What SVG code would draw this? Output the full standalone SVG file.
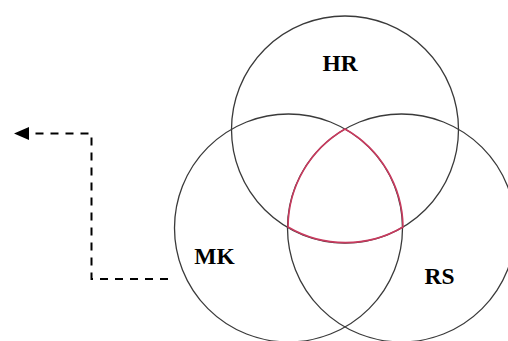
<svg xmlns="http://www.w3.org/2000/svg" width="508" height="341" viewBox="0 0 508 341">
<style>
.c{fill:none;stroke:#3a3a3a;stroke-width:1.3}
.lbl{font-family:"Liberation Serif",serif;font-weight:bold;font-size:23.5px;fill:#000;text-anchor:middle}
.red{fill:none;stroke:#c83a5e;stroke-width:1.6}
.dash{fill:none;stroke:#000;stroke-width:2;stroke-dasharray:8,7}
</style>
<defs>
<marker id="ah" markerWidth="15" markerHeight="13" refX="14" refY="6.5" orient="auto" markerUnits="userSpaceOnUse">
<path d="M0,0 L15,6.5 L0,13 Z" fill="#000"/>
</marker>
</defs>
<rect width="508" height="341" fill="#fff"/>
<g id="HR"><circle class="c" cx="345" cy="129.5" r="113.5"/><text class="lbl" x="340" y="71">HR</text></g>
<g id="MK"><circle class="c" cx="288.5" cy="228" r="114"/><text class="lbl" x="214.5" y="263.5">MK</text></g>
<g id="RS"><circle class="c" cx="401.5" cy="228" r="114"/><text class="lbl" x="439.5" y="284">RS</text></g>
<g id="center"><path class="red" d="M345,129 A114,114 0 0,0 288,227 A113.5,113.5 0 0,0 403,227 A114,114 0 0,0 345,129 Z"/></g>
<g id="connectors"><path class="dash" d="M168,279 H91.5 V133.5 H15" marker-end="url(#ah)"/></g>
</svg>
